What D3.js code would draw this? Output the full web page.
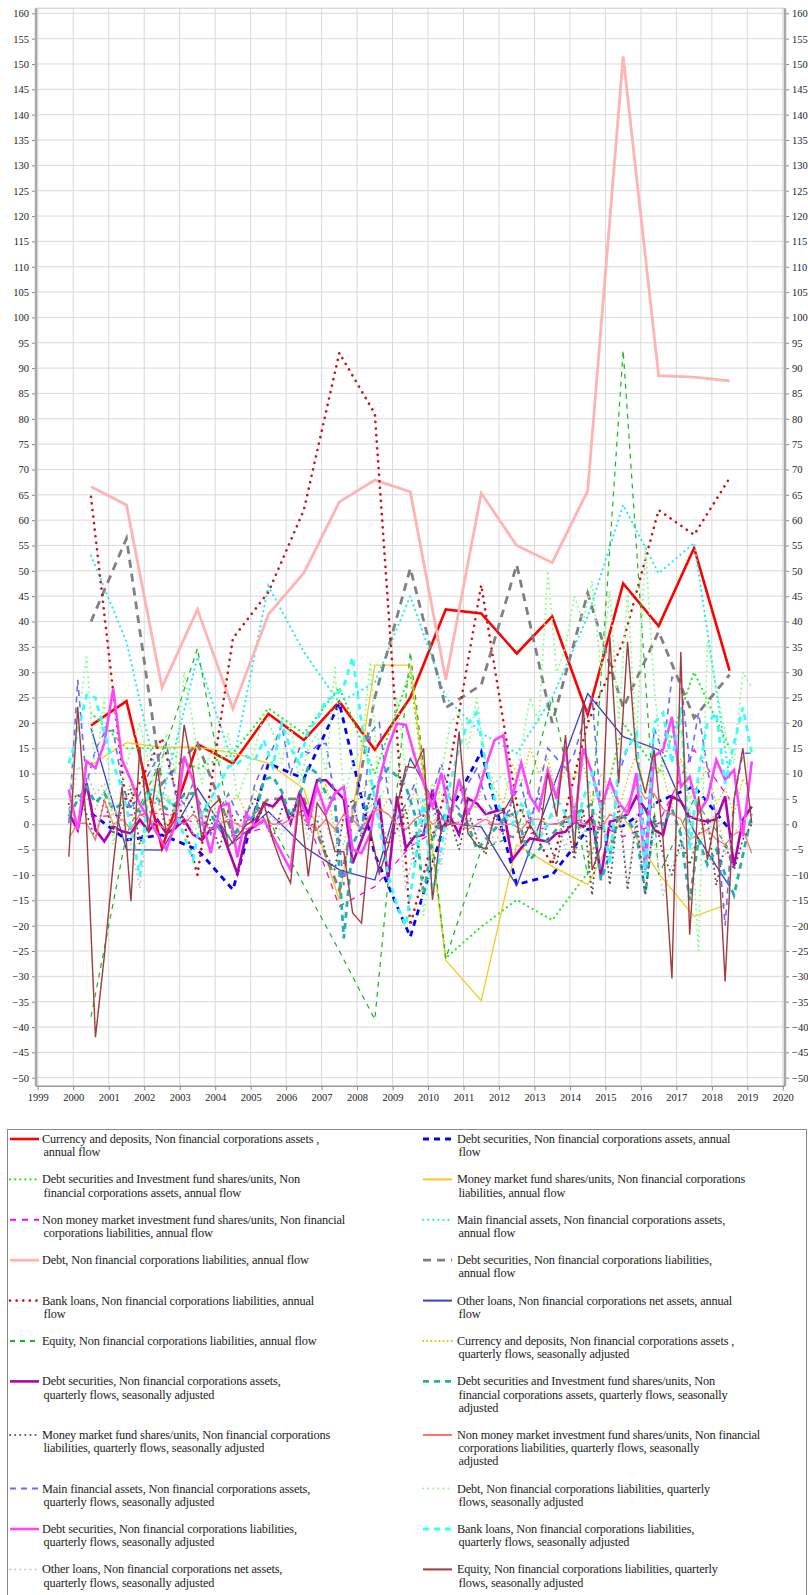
<!DOCTYPE html>
<html><head><meta charset="utf-8">
<script src="https://cdn.jsdelivr.net/npm/d3@7"></script>
<style>html,body{margin:0;padding:0;background:#fff;} svg{display:block}</style>
</head><body>
<svg id="c" width="808" height="1595"></svg>
<script>
(function(){
// ---------- categories ----------
const annualYears = [2000,2001,2002,2003,2004,2005,2006,2007,2008,2009,2010,2011,2012,2013,2014,2015,2016,2017,2018];
const quarterYears = [2000,2001,2002,2003,2004,2005,2006,2007,2008,2009,2010,2011,2012,2013,2014,2015,2016,2017,2018];
const yTicks = [-50,-45,-40,-35,-30,-25,-20,-15,-10,-5,0,5,10,15,20,25,30,35,40,45,50,55,60,65,70,75,80,85,90,95,100,105,110,115,120,125,130,135,140,145,150,155,160];
const xTicks = [1999,2000,2001,2002,2003,2004,2005,2006,2007,2008,2009,2010,2011,2012,2013,2014,2015,2016,2017,2018,2019,2020];

// ---------- annual series (2000 .. 2018) ----------
const currencyAnnual      = [19.5,24.3,-4.7,15.8,12.0,21.8,16.6,24.2,14.7,25.0,42.4,41.6,33.7,41.0,21.6,47.5,39.1,54.5,30.3];
const debtSecAssetsAnnual = [2.2,-3.1,-2.1,-5.0,-12.9,12.0,9.0,23.9,-6.0,-22.2,0.9,14.3,-11.9,-10.0,-1.0,-0.3,4.5,7.5,-1.0];
const dsifAssetsAnnual    = [22,15,15,11,14,22.9,17.9,27,10,30,-26.4,-20.2,-14.9,-18.9,-9.6,20,10,30,15];
const mmfLiabAnnual       = [11.7,16.1,15.2,15.2,14.1,12.0,7.0,-15.0,31.4,31.4,-26.8,-34.8,-4.0,-8.3,-11.9,1.5,-9.7,-18.2,-15.6];
const nonMmfLiabAnnual    = [1.5,1.8,2.2,0.2,-2.4,-0.5,2.8,-16.2,-12.3,-4.4,0,1,-3,0,1,-2.4,0.2,14.7,5];
const mainAssetsAnnual    = [53,36,5,33,12,47,34,24,28,45,25,18,14,25,41,63,49.5,55.5,9];
const debtLiabAnnual      = [66.6,63,27,42.4,22.8,41.4,49.6,63.6,67.9,65.6,28.5,65.3,55.0,51.6,65.8,151.5,88.5,88.2,87.5];
const debtSecLiabAnnual   = [40,56.4,8,16,-2,5,5,-13,25,50.5,23,27.5,51.2,20,45.6,23,38,21,29.5];
const bankLoansAnnual     = [64.6,3,17,-10,36.7,45.8,62,93,81,-20,7,47.2,4,-8,20,36,62,57.1,68.3];
const otherLoansAnnual    = [19,-5,-5.1,7.1,-3.8,2.5,-4.4,-9,-11,13,0.2,-0.5,-12.1,6.8,25.8,17.3,14.7,-1.4,-12.3];
const equityAnnual        = [-38,-2,13,34.7,-3,1,-12,-25,-38.5,34,-26.5,-5,-2,25,-10,93.5,-10,5,-5];

// ---------- quarterly series (1999Q4 .. 2019Q1) ----------
const currencyQ = [3,
 6,5,3,7, 2,4,8,3, 5,2,6,3, 4,8,2,5, 1,3,6,2, 7,4,3,5, 2,6,1,4, 8,-2,-4,3, 6,9,2,5, 4,1,7,3,
 8,6,2,9, 5,3,11,7, 4,12,8,15, 10,13,6,11, 9,12,4,10, 7,3,9,14, 6,12,10,3, 13,5,8,11, 4,7,2,9,
 6];
const debtSecAssetsQ = [2.2,
 -1.1,8.1,-1.1,-3.4, -0.5,-1.4,-1.8,0.9, -1.4,0.9,-1.8,-0.8, 0.9,-2.0,-3.1,-1.0, 0.0,-5.0,-9.7,-2.0,
 0.0,4.1,3.5,5.5, 0.2,6.1,2.0,8.7, 8.7,6.8,5.0,-7.7, -3.1,1.5,4.8,-11.0, 5.5,-4.7,-2.4,-2.1,
 6.8,-1.0,1.5,-2.0, 5.1,4.1,2.0,2.5, 3.0,-7.0,-4.7,-2.8, -3.1,-3.4,-1.8,-1.5, 0.5,-0.5,1.5,-10.3,
 0.5,1.0,2.0,5.5, 3.0,-1.1,-2.1,5.5, 4.5,1.5,0.9,0.5, 1.0,5.5,-8.3,0.9,
 3.5];
const dsifAssetsQ = [1.5,
 4.8,7.4,4.2,6.1, 3,4,3.5,2.5, 6.1,5,3,4, 5.8,6.1,3.5,2, -1,-2.4,-1.5,0,
 2,8.8,9.4,6.5, 1.5,5.5,11.4,10, 6,4.5,-22.5,-4, -0.5,6.5,8.5,11, 9.5,7.5,2,-14,
 -3,1,3,2, 0,-5,-3,-1, 1,2,-1,-7, -5,-3,-1,1, 2,3,4,-11,
 -6,2,1,-2, -13.6,1,0,3, -2,-15,-3,-8, -5,-10,-14,-6,
 2];
const mmfLiabQ = [4,
 6,2,-3,5, -2,3,7,-4, 2,5,-1,4, 6,3,-2,1, -5,3,0,2,
 5,1,-3,3, 2,4,-1,1, -6,-9,2,5, -3,6,1,-4, -1,3,-8,2,
 4,-2,1,-5, 3,-3,-6,2, -2,5,-4,1, 6,-3,-8,2, -7,3,-14,5,
 -12,4,-13,1, -14,2,-6,-10, -3,-8,-2,1, -12,-4,-9,-3,
 0];
const nonMmfLiabQ = [-2.8,
 0.2,0.2,-3.1,4.8, 0,1,-1,2, 1,0,-1,1, 0,2,0,-1, 0,1,0,-1,
 0,1,0,0, 1,2,0,-1, 1,-1,2,1, -1,2,3,2, 0,-1,1,2,
 0,1,0,0, -1,0,1,0, 0,0,-1,1, 1,0,0,1, 2,0,0,-1,
 2,1,4,8, 5,6,3,2, 1,-3,-2,-1, -3,-4,-2,-1,
 -5.7];
const mainAssetsQ = [0.2,
 28.5,8,14.7,18, 18.6,8,3,6, 10,13,16,6, 4,8,2,-2, 3,6,2,1,
 8,12,15,19.6, 10,15,14,15.5, 16,5,-12,4, -2,18,20,6, 1,4,8,-2,
 6,12,5,3, 8,11,5,2, 0,5,8,0, 7,15,13,11, 14,20,25,3,
 -7,10,15,18, -5,19,14,29, 28.5,12,22,11, 1,-20,5,14,
 14];
const debtLiabQ = [5,
 20,33,10,25, -4,8,15,20, 12,5,18,10, 30,20,8,15, 12,18,5,10,
 15,22,18,12, 20,8,15,18, 10,31,5,12, 15,32,5,8, 25,10,15,-18,
 -5,10,20,22, 15,25,12,8, 10,5,15,25, 20,50,30,35, 45,40,48,30,
 46,20,46,15, 55,27,10,20, 18,5,-25,36, 27,18,12,30,
 27];
const debtSecLiabQ = [6.8,
 -1.1,12.4,11.1,16, 26.8,12.7,8.7,4, 1,-2,-5,0, 13.4,8.7,0.9,-5.7, 3.5,4.1,-6.5,2.2,
 -0.5,0.9,-2.4,-5.7, -9,5.5,0.2,7.4, 2.2,6.1,7.4,-5, -5.7,-1.8,8.8,15.3, 19.9,19.6,13.4,8.1,
 3.5,10.1,1.5,8.8, 2.2,5.5,11.4,16.6, 17.6,5.5,12.1,5.5, 2.8,10.7,5,15.3, 0.2,15,10.1,3.2,
 8.6,4.2,2.2,10.1, -9,13.4,14.7,21.2, 7.4,9.4,2.2,5, 12.7,8.8,10.7,-2.4,
 12.4];
const bankLoansQ = [12,
 18,25.5,25,18, 12,6.8,-0.5,-10.3, 6.8,6.8,5,3, -2.4,-7,2.2,5, 8,11.4,12,13.4,
 12.7,16.6,11.4,19.9, 15,12,18.6,20.6, 24.5,25.2,27.2,33, 20,10,0,-10, -16,-20,-8,5,
 -14,-5,8,15, 20,22,12,5, 2,0,4,2, -3,0,5,2, -2,5,10,3,
 -8,12,15,18, -10,20,22,12, 23,-5,10,20, 22,8,16,23,
 14];
const otherLoansQ = [2,
 11.4,10,6,8.1, 3,1,-4,-12.6, 2,5,0,3, 4,-2,1,3, 0,2,-1,1,
 3,0,2,-2, 1,4,-3,2, 0,-5,1,3, -2,4,1,-3, 2,-13,-4,1,
 3,-8,2,0, 1,-2,3,-4, 0,2,-1,3, -3,1,2,-5, 4,-2,1,3,
 -1,5,-12,2, 0,-3,-14,-8, -5,2,1,-2, 3,-6,-2,1,
 1];
const equityQ = [-6.4,
 23.2,-0.5,-42,-26, -8,7.4,-15.2,15.3, -1.6,11.1,-2,1, 19.6,10.4,-3,3.2, 5,-4.4,-2.4,-0.1,
 0.9,4.2,-3.1,-8.0, -11.6,5.5,-10.3,4.2, 1.5,-5.4,-5.4,-17.5, -19.5,-1.1,-9.7,-4.4, 3.5,11.4,11.1,15.0,
 -14.9,-0.5,0,18.3, -1.8,-4.1,-4.9,1.5, 2.5,5.5,-3.7,-0.1, -3.1,10.1,1.5,17.6, -5.7,23.9,-9,-4.4,
 37,8.1,36,12.7, 6.1,14.7,-3,-30.4, 34,-21.8,5.5,-7, 2.2,-31,4.8,15,
 0.2];

// ---------- legend labels ----------
const labels = [
 ["Currency and deposits, Non financial corporations assets ,","annual  flow"],
 ["Debt securities, Non financial corporations assets, annual","flow"],
 ["Debt securities and Investment fund shares/units, Non","financial corporations assets, annual  flow"],
 ["Money market fund shares/units, Non financial corporations","liabilities, annual  flow"],
 ["Non money market investment fund shares/units, Non financial","corporations liabilities, annual  flow"],
 ["Main financial assets, Non financial corporations assets,","annual  flow"],
 ["Debt, Non financial corporations liabilities, annual  flow"],
 ["Debt securities, Non financial corporations liabilities,","annual flow"],
 ["Bank loans, Non financial corporations liabilities, annual","flow"],
 ["Other loans, Non financial corporations net assets, annual","flow"],
 ["Equity, Non financial corporations liabilities, annual  flow"],
 ["Currency and deposits, Non financial corporations assets ,","quarterly  flows, seasonally adjusted"],
 ["Debt securities, Non financial corporations assets,","quarterly flows, seasonally adjusted"],
 ["Debt securities and Investment fund shares/units, Non","financial corporations assets, quarterly  flows, seasonally","adjusted"],
 ["Money market fund shares/units, Non financial corporations","liabilities, quarterly  flows, seasonally adjusted"],
 ["Non money market investment fund shares/units, Non financial","corporations liabilities, quarterly flows, seasonally","adjusted"],
 ["Main financial assets, Non financial corporations assets,","quarterly  flows, seasonally adjusted"],
 ["Debt, Non financial corporations liabilities, quarterly","flows, seasonally adjusted"],
 ["Debt securities, Non financial corporations liabilities,","quarterly  flows, seasonally adjusted"],
 ["Bank loans, Non financial corporations liabilities,","quarterly  flows, seasonally adjusted"],
 ["Other loans, Non financial corporations net assets,","quarterly  flows, seasonally adjusted"],
 ["Equity, Non financial corporations liabilities, quarterly","flows, seasonally adjusted"]
];

// ---------- styles ----------
const DOT = "0.1,5";
const styles = [
 {c:"#ff0000", w:2.6, d:null},
 {c:"#0000ff", w:2.8, d:"6,5"},
 {c:"#22ee22", w:2.2, d:DOT, cap:"round"},
 {c:"#ffc61a", w:1.3, d:null},
 {c:"#ff00ff", w:1.3, d:"6,6"},
 {c:"#22eeee", w:2.2, d:DOT, cap:"round"},
 {c:"#ffb3b3", w:2.8, d:null},
 {c:"#808080", w:2.8, d:"8,6"},
 {c:"#cc1111", w:2.6, d:"0.1,6.5", cap:"round"},
 {c:"#3c3cd0", w:1.3, d:null},
 {c:"#11bb11", w:1.2, d:"5,5"},
 {c:"#cccc00", w:1.6, d:"0.1,4", cap:"round"},
 {c:"#b000b0", w:2.6, d:null},
 {c:"#20b2aa", w:2.8, d:"6,5"},
 {c:"#555555", w:2.0, d:"0.1,5", cap:"round"},
 {c:"#ff7070", w:1.3, d:null},
 {c:"#6a6aff", w:1.6, d:"6,5"},
 {c:"#8cff8c", w:2.0, d:"0.1,5", cap:"round"},
 {c:"#ff44ff", w:2.6, d:null},
 {c:"#33ffff", w:2.8, d:"6,5"},
 {c:"#c8c8c8", w:2.0, d:"0.1,5", cap:"round"},
 {c:"#a03c3c", w:1.4, d:null}
];

// ---------- assemble ----------
const quarterTimes = [1999.875];
quarterYears.forEach(yy => [0.125,0.375,0.625,0.875].forEach(q => quarterTimes.push(yy+q)));
quarterTimes.push(2019.125);
const annualTimes = annualYears.map(yy => yy + 0.5);

const seriesValues = [currencyAnnual, debtSecAssetsAnnual, dsifAssetsAnnual, mmfLiabAnnual, nonMmfLiabAnnual,
  mainAssetsAnnual, debtLiabAnnual, debtSecLiabAnnual, bankLoansAnnual, otherLoansAnnual, equityAnnual,
  currencyQ, debtSecAssetsQ, dsifAssetsQ, mmfLiabQ, nonMmfLiabQ, mainAssetsQ, debtLiabQ, debtSecLiabQ,
  bankLoansQ, otherLoansQ, equityQ];

const series = seriesValues.map((vals, i) => {
  const times = i < 11 ? annualTimes : quarterTimes;
  return {label: labels[i], style: styles[i], pts: vals.map((v, k) => ({t: times[k], v}))};
});

// ---------- draw ----------
const svg = d3.select("#c");
const FONT = "'Liberation Serif', 'Times New Roman', serif";
svg.append("rect").attr("width",808).attr("height",1595).attr("fill","#fff");

const x = d3.scaleLinear().domain([1999, 2020]).range([37.8, 782.8]);
const y = d3.scaleLinear().domain([-50, 160]).range([1077.7, 13.3]);
const plotTop = y(161), plotBottom = y(-51.7);
const plotLeft = 36, plotRight = 785;

const grid = svg.append("g");
grid.selectAll("line.h").data(yTicks).join("line")
  .attr("x1", plotLeft).attr("x2", plotRight).attr("y1", d => y(d)).attr("y2", d => y(d))
  .attr("stroke", "#d9d9d9").attr("stroke-width", 1);
grid.selectAll("line.v").data(xTicks).join("line")
  .attr("x1", d => x(d)).attr("x2", d => x(d)).attr("y1", plotTop).attr("y2", plotBottom)
  .attr("stroke", "#d9d9d9").attr("stroke-width", 1);

svg.append("line").attr("x1", plotLeft).attr("x2", plotRight).attr("y1", plotTop).attr("y2", plotTop).attr("stroke", "#c8c8c8");
svg.append("line").attr("x1", plotLeft).attr("x2", plotRight).attr("y1", plotBottom).attr("y2", plotBottom).attr("stroke", "#999").attr("stroke-width", 1.5);

const axL = svg.append("g").attr("transform", `translate(${plotLeft},0)`)
  .call(d3.axisLeft(y).tickValues(yTicks).tickSize(4).tickSizeOuter(0).tickPadding(3));
const axR = svg.append("g").attr("transform", `translate(${plotRight},0)`)
  .call(d3.axisRight(y).tickValues(yTicks).tickSize(4).tickSizeOuter(0).tickPadding(3));
const axB = svg.append("g").attr("transform", `translate(0,${plotBottom})`)
  .call(d3.axisBottom(x).tickValues(xTicks).tickFormat(d3.format("d")).tickSize(4).tickSizeOuter(0).tickPadding(3));
[axL, axR, axB].forEach(a => {
  a.select(".domain").remove();
  a.selectAll(".tick line").attr("stroke", "#888");
  a.selectAll(".tick text").attr("font-family", FONT).attr("font-size", 10.5).attr("fill", "#222");
});
svg.append("line").attr("x1", plotLeft).attr("x2", plotLeft).attr("y1", plotTop).attr("y2", plotBottom).attr("stroke", "#a8a8a8").attr("stroke-width", 2.5);
svg.append("line").attr("x1", plotRight).attr("x2", plotRight).attr("y1", plotTop).attr("y2", plotBottom).attr("stroke", "#a8a8a8").attr("stroke-width", 2.5);

const line = d3.line().x(d => x(d.t)).y(d => y(d.v));
const lg = svg.append("g");
series.forEach(s => {
  lg.append("path").datum(s.pts).attr("d", line)
    .attr("fill", "none").attr("stroke", s.style.c).attr("stroke-width", s.style.w)
    .attr("stroke-dasharray", s.style.d).attr("stroke-linecap", s.style.cap || "butt")
    .attr("stroke-linejoin", "miter");
});

const legTop = 1129.5;
svg.append("rect").attr("x", 7.5).attr("y", legTop).attr("width", 799).attr("height", 500)
  .attr("fill", "none").attr("stroke", "#888").attr("stroke-width", 1);
const LH = 13.2;
let rowY = 1139;
const colSym = [10, 423], colText = [42, 457];
for (let r = 0; r < 11; r++) {
  const pair = [series[2*r], series[2*r+1]];
  let maxLines = 1;
  pair.forEach((s, c) => {
    maxLines = Math.max(maxLines, s.label.length);
    svg.append("line").attr("x1", colSym[c]).attr("x2", colSym[c] + 29).attr("y1", rowY).attr("y2", rowY)
      .attr("stroke", s.style.c).attr("stroke-width", Math.max(s.style.w, 2))
      .attr("stroke-dasharray", s.style.d).attr("stroke-linecap", s.style.cap || "butt");
    const t = svg.append("text").attr("font-family", FONT).attr("font-size", 12.3)
      .attr("letter-spacing", -0.15).attr("fill", "#222");
    s.label.forEach((ln, k) => {
      t.append("tspan").attr("x", colText[c] + (k ? 1.5 : 0)).attr("y", rowY + k * LH).attr("dy", "0.33em").text(ln);
    });
  });
  rowY += maxLines * LH + 14;
}
})();
</script></body></html>
